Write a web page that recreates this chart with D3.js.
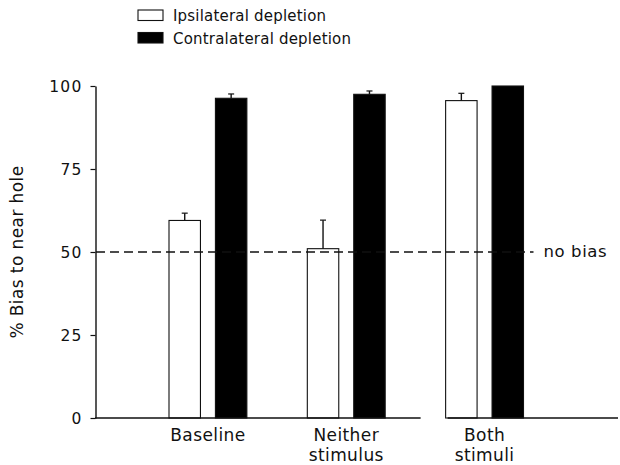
<!DOCTYPE html>
<html>
<head>
<meta charset="utf-8">
<script src="https://cdn.jsdelivr.net/npm/d3@7"></script>
<style>
  html, body { margin: 0; padding: 0; background: #fff; }
  svg { display: block; font-family: "DejaVu Sans", sans-serif; }
</style>
</head>
<body>
<svg id="chart" width="620" height="465"></svg>
<script>
// Conditions along the x axis (label lines)
const categories = ["Baseline", "Neither stimulus", "Both stimuli"];
const categoryLines = [["Baseline"], ["Neither", "stimulus"], ["Both", "stimuli"]];
const seriesNames = ["Ipsilateral depletion", "Contralateral depletion"];
// % bias to near hole (mean) and upper error limit
const ipsilateral = [59.5, 51.0, 95.6];
const ipsilateralErr = [61.7, 59.6, 97.8];
const contralateral = [96.3, 97.5, 100];
const contralateralErr = [97.6, 98.5, 100];
const yTicks = [0, 25, 50, 75, 100];
const noBias = 50;

const svg = d3.select("#chart");
const ink = "#111";

const y = d3.scaleLinear().domain([0, 100]).range([418, 86]);
const x = d3.scaleBand().domain(categories).range([169, 523.5]).paddingInner(0.437).paddingOuter(0);
const xs = d3.scaleBand().domain(seriesNames).range([0, x.bandwidth()]).paddingInner(0.3226);

const rows = categories.map((c, i) => ({
  cat: c,
  bars: [
    { s: seriesNames[0], v: ipsilateral[i], e: ipsilateralErr[i], fill: "#fff" },
    { s: seriesNames[1], v: contralateral[i], e: contralateralErr[i], fill: "#000" }
  ]
}));

// Bars
const g = svg.append("g");
const grp = g.selectAll("g.grp").data(rows).join("g")
  .attr("class", "grp")
  .attr("transform", d => `translate(${x(d.cat)},0)`);

grp.selectAll("rect").data(d => d.bars).join("rect")
  .attr("x", d => xs(d.s))
  .attr("y", d => y(d.v))
  .attr("width", xs.bandwidth())
  .attr("height", d => y(0) - y(d.v))
  .attr("fill", d => d.fill)
  .attr("stroke", ink)
  .attr("stroke-width", 1.1);

// Error bars (upper only)
const eb = grp.selectAll("g.err").data(d => d.bars.filter(b => b.e > b.v)).join("g").attr("class", "err");
eb.append("line")
  .attr("x1", d => xs(d.s) + xs.bandwidth() / 2)
  .attr("x2", d => xs(d.s) + xs.bandwidth() / 2)
  .attr("y1", d => y(d.v))
  .attr("y2", d => y(d.e))
  .attr("stroke", ink).attr("stroke-width", 1.4);
eb.append("line")
  .attr("x1", d => xs(d.s) + xs.bandwidth() / 2 - 3)
  .attr("x2", d => xs(d.s) + xs.bandwidth() / 2 + 3)
  .attr("y1", d => y(d.e))
  .attr("y2", d => y(d.e))
  .attr("stroke", ink).attr("stroke-width", 1.2);

// "No bias" reference line
const lastBar = x(categories[2]) + xs(seriesNames[1]) + xs.bandwidth();
svg.append("line")
  .attr("x1", 96).attr("x2", lastBar + 10)
  .attr("y1", y(noBias)).attr("y2", y(noBias))
  .attr("stroke", ink).attr("stroke-width", 1.5)
  .attr("stroke-dasharray", "9,5");
svg.append("text")
  .attr("x", lastBar + 20).attr("y", y(noBias) + 5)
  .attr("font-size", 16.5).attr("fill", ink)
  .attr("letter-spacing", 0.6)
  .text("no bias");

// Y axis
const yAxis = svg.append("g")
  .attr("transform", "translate(95.5,0)")
  .call(d3.axisLeft(y).tickValues(yTicks).tickSize(5).tickSizeOuter(0).tickPadding(8));
yAxis.select(".domain").attr("stroke", ink).attr("stroke-width", 1.4);
yAxis.selectAll(".tick line").attr("stroke", ink).attr("stroke-width", 1.2);
yAxis.selectAll(".tick text")
  .attr("font-family", "DejaVu Sans").attr("font-size", 15.5)
  .attr("letter-spacing", 1.2).attr("fill", ink)
  .attr("dy", "0.36em");

// X baseline (broken just before the last group)
const gapStart = x(categories[2]) - 25;
const gapEnd = x(categories[2]) + 2;
svg.append("path")
  .attr("d", `M95,${y(0)}H${gapStart}M${gapEnd},${y(0)}H618`)
  .attr("stroke", ink).attr("stroke-width", 1.4).attr("fill", "none");

// Category labels
svg.selectAll("text.cat").data(categoryLines).join("text")
  .attr("class", "cat")
  .attr("text-anchor", "middle")
  .attr("font-size", 17).attr("fill", ink)
  .attr("letter-spacing", 0.4)
  .attr("transform", (d, i) => `translate(${x(categories[i]) + x.bandwidth() / 2},441)`)
  .selectAll("tspan").data(d => d).join("tspan")
  .attr("x", 0).attr("dy", (d, i) => i === 0 ? 0 : 20)
  .text(d => d);

// Y axis title
svg.append("text")
  .attr("transform", `translate(23,${y(50)}) rotate(-90)`)
  .attr("text-anchor", "middle")
  .attr("font-size", 17).attr("fill", ink)
  .attr("letter-spacing", 0.4)
  .text("% Bias to near hole");

// Legend
const legend = svg.append("g").attr("transform", "translate(138,0)");
const legendFill = ["#fff", "#000"];
const legendItems = legend.selectAll("g").data(seriesNames).join("g")
  .attr("transform", (d, i) => `translate(0,${10 + i * 22.5})`);
legendItems.append("rect")
  .attr("width", 25).attr("height", 10.5)
  .attr("fill", (d, i) => legendFill[i])
  .attr("stroke", ink).attr("stroke-width", 1.1);
legendItems.append("text")
  .attr("x", 35).attr("y", 11)
  .attr("font-size", 15).attr("fill", ink)
  .attr("letter-spacing", 0.2)
  .text(d => d);
</script>
</body>
</html>
